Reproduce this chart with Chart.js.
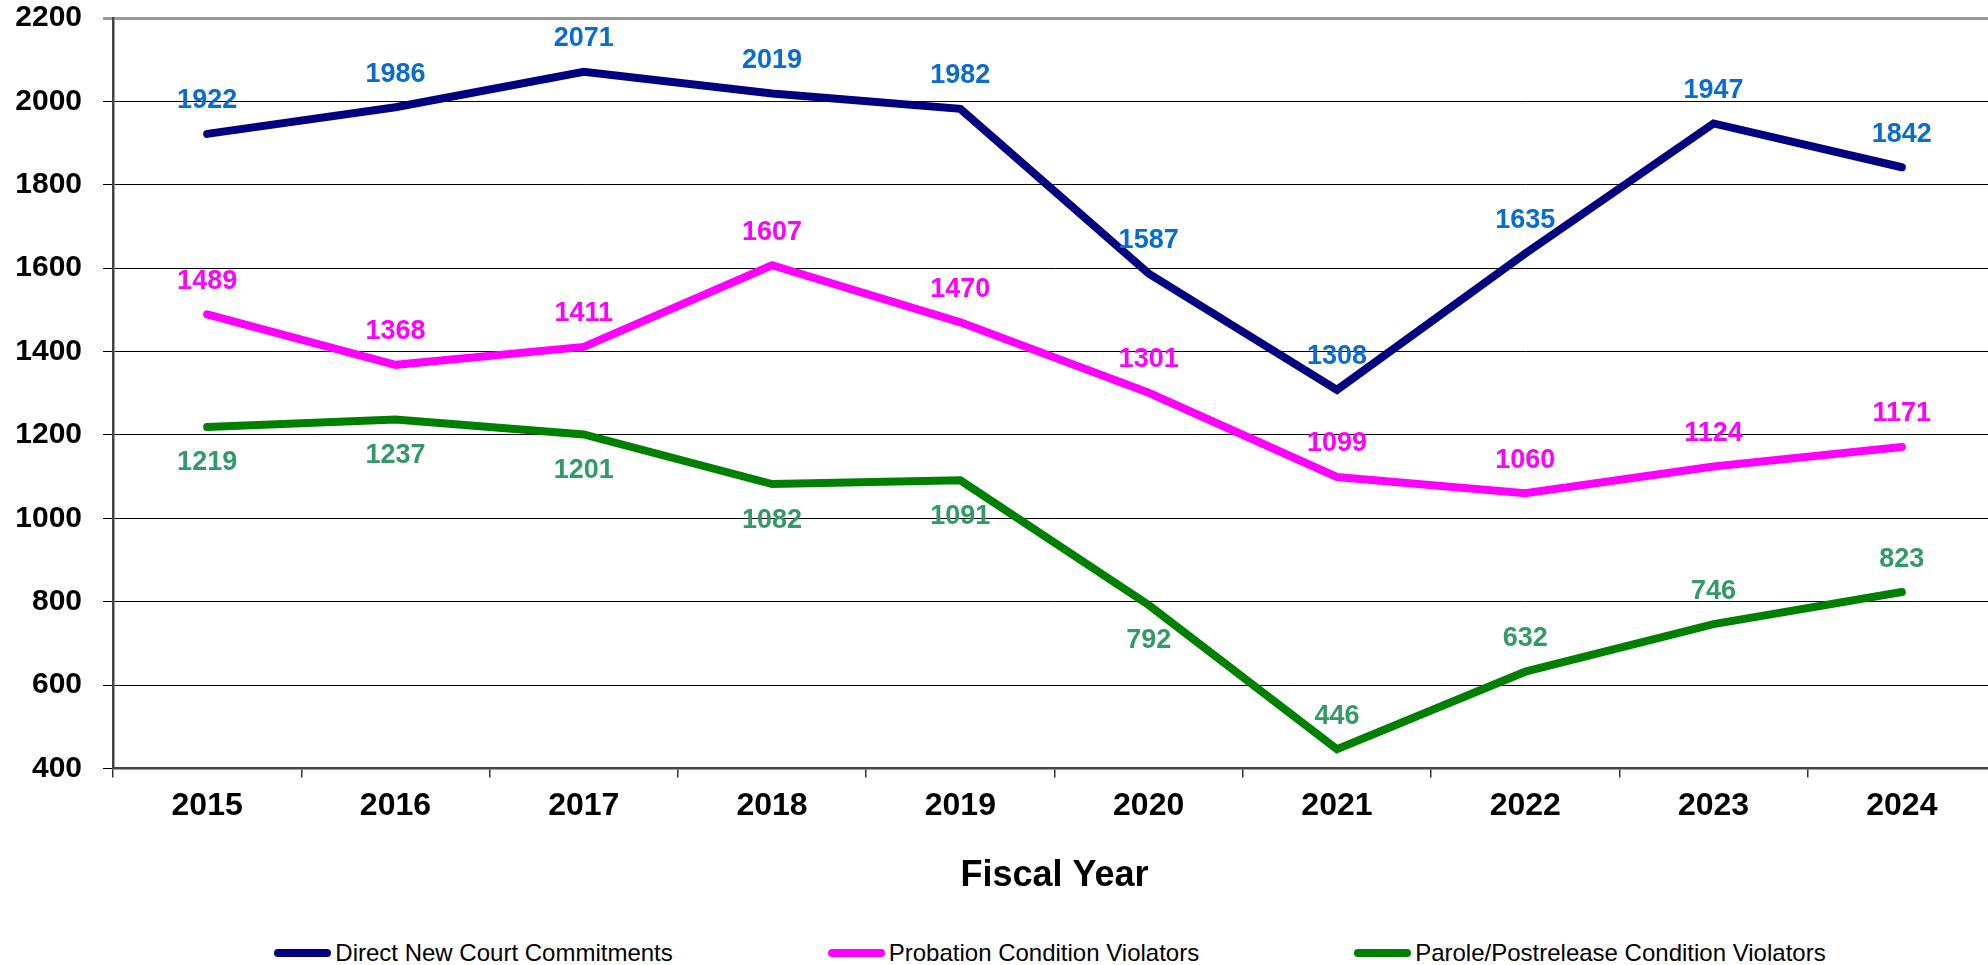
<!DOCTYPE html>
<html lang="en">
<head>
  <meta charset="UTF-8">
  <title>Admissions by Fiscal Year</title>
  <script src="https://cdn.jsdelivr.net/npm/chart.js"></script>
  <style>
    * {
      margin: 0;
      padding: 0;
      box-sizing: border-box;
    }

    body {
      width: 1988px;
      height: 965px;
      overflow: hidden;
      background: white;
      font-family: 'Liberation Sans', Arial, sans-serif;
      position: relative;
    }

    .chart-box {
      position: absolute;
      left: 0;
      top: 0;
      width: 2100px;
      height: 900px;
    }

    #legend {
      position: absolute;
      left: 0;
      top: 938px;
      width: 2100px;
      display: flex;
      justify-content: center;
      gap: 155px;
      font-size: 24px;
      line-height: 30px;
      color: black;
    }

    #legend .item {
      display: flex;
      align-items: center;
      white-space: nowrap;
    }

    #legend .swatch {
      width: 57px;
      height: 8px;
      border-radius: 4px;
      margin-right: 4px;
    }
  </style>
</head>
<body>
  <div class="chart-box">
    <canvas id="yearChart"></canvas>
  </div>
  <div id="legend"></div>

  <script>
    const years = ['2015', '2016', '2017', '2018', '2019', '2020', '2021', '2022', '2023', '2024'];
    const directCommitments = [1922, 1986, 2071, 2019, 1982, 1587, 1308, 1635, 1947, 1842];
    const probationViolators = [1489, 1368, 1411, 1607, 1470, 1301, 1099, 1060, 1124, 1171];
    const paroleViolators = [1219, 1237, 1201, 1082, 1091, 792, 446, 632, 746, 823];
    const yTicks = [400, 600, 800, 1000, 1200, 1400, 1600, 1800, 2000, 2200];

    // where each value label sits: 'a' above the line, 'b' below it
    const directPlace = ['a', 'a', 'a', 'a', 'a', 'a', 'a', 'a', 'a', 'a'];
    const probationPlace = ['a', 'a', 'a', 'a', 'a', 'a', 'a', 'a', 'a', 'a'];
    const parolePlace = ['b', 'b', 'b', 'b', 'b', 'b', 'a', 'a', 'a', 'a'];

    const FONT = "'Liberation Sans', Arial, sans-serif";

    // draws the number next to every point
    const valueLabels = {
      id: 'valueLabels',
      afterDatasetsDraw(chart) {
        const ctx = chart.ctx;
        ctx.save();
        ctx.font = 'bold 27px ' + FONT;
        ctx.textAlign = 'center';
        ctx.textBaseline = 'middle';
        chart.data.datasets.forEach((ds, i) => {
          const meta = chart.getDatasetMeta(i);
          meta.data.forEach((pt, j) => {
            const dy = ds.place[j] === 'b' ? 36 : -33;
            ctx.fillStyle = ds.labelColor;
            ctx.fillText(String(ds.data[j]), pt.x, pt.y + dy);
          });
        });
        ctx.restore();
      }
    };

    const lineStyle = {
      borderWidth: 8,
      pointRadius: 0,
      pointHoverRadius: 0,
      borderCapStyle: 'round',
      borderJoinStyle: 'miter',
      tension: 0,
      fill: false
    };

    const chart = new Chart(document.getElementById('yearChart'), {
      type: 'line',
      data: {
        labels: years,
        datasets: [
          {
            ...lineStyle,
            label: 'Direct New Court Commitments',
            data: directCommitments,
            borderColor: '#000080',
            backgroundColor: '#000080',
            labelColor: '#0a6ccf',
            place: directPlace
          },
          {
            ...lineStyle,
            label: 'Probation Condition Violators',
            data: probationViolators,
            borderColor: '#ff00ff',
            backgroundColor: '#ff00ff',
            labelColor: '#ff00ff',
            place: probationPlace
          },
          {
            ...lineStyle,
            label: 'Parole/Postrelease Condition Violators',
            data: paroleViolators,
            borderColor: '#008000',
            backgroundColor: '#008000',
            labelColor: '#339966',
            place: parolePlace
          }
        ]
      },
      options: {
        responsive: true,
        maintainAspectRatio: false,
        animation: false,
        layout: {
          padding: { top: 2, left: 13, right: 104, bottom: 0 }
        },
        plugins: {
          legend: { display: false },
          tooltip: { enabled: false },
          title: { display: false }
        },
        scales: {
          x: {
            offset: true,
            grid: {
              offset: true,
              drawOnChartArea: false,
              tickLength: 9,
              color: '#333',
              lineWidth: 1.5
            },
            border: { color: '#444', width: 2.5 },
            ticks: {
              color: 'black',
              padding: 10,
              font: { family: FONT, size: 32, weight: 'bold' }
            },
            title: {
              display: true,
              text: 'Fiscal Year',
              color: 'black',
              padding: { top: 19, bottom: 2 },
              font: { family: FONT, size: 36, weight: 'bold' }
            }
          },
          y: {
            min: yTicks[0],
            max: yTicks[yTicks.length - 1],
            afterBuildTicks: axis => {
              axis.ticks = yTicks.map(v => ({ value: v }));
            },
            // fixed axis width, and keep the label padding from pushing the plot top down
            afterFit: axis => {
              axis.width = 100;
              axis.paddingTop = 18;
              axis.paddingBottom = 18;
            },
            grid: {
              tickLength: 10,
              color: ctx => ctx.tick && ctx.tick.value === 2200 ? '#999' : '#000',
              lineWidth: ctx => ctx.tick && ctx.tick.value === 2200 ? 3 : 1
            },
            border: { color: '#444', width: 2.5 },
            ticks: {
              color: 'black',
              padding: 21,
              callback: v => String(v),
              font: { family: FONT, size: 30, weight: 'bold' }
            }
          }
        }
      },
      plugins: [valueLabels]
    });

    // html legend built from the datasets
    const legend = document.getElementById('legend');
    chart.data.datasets.forEach(ds => {
      const item = document.createElement('div');
      item.className = 'item';
      const sw = document.createElement('span');
      sw.className = 'swatch';
      sw.style.background = ds.borderColor;
      const txt = document.createElement('span');
      txt.textContent = ds.label;
      item.appendChild(sw);
      item.appendChild(txt);
      legend.appendChild(item);
    });
  </script>
</body>
</html>
